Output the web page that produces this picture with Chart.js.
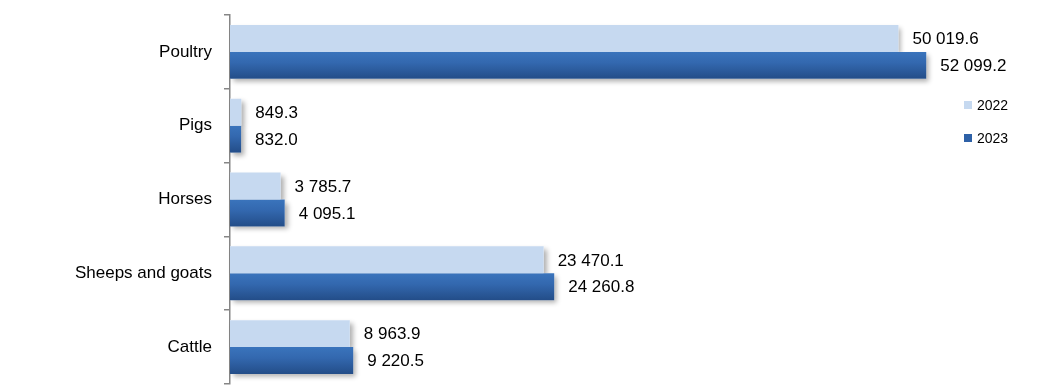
<!DOCTYPE html>
<html>
<head>
<meta charset="utf-8">
<script src="https://cdn.jsdelivr.net/npm/chart.js@4.4.1/dist/chart.umd.min.js"></script>
<style>
  html, body { margin: 0; padding: 0; background: #ffffff; }
  #wrap { width: 1039px; height: 386px; position: relative; }
</style>
</head>
<body>
<div id="wrap"><canvas id="c" width="1039" height="386"></canvas></div>
<script>
const categories = ['Poultry', 'Pigs', 'Horses', 'Sheeps and goats', 'Cattle'];
const values2022 = [50019.6, 849.3, 3785.7, 23470.1, 8963.9];
const values2023 = [52099.2, 832.0, 4095.1, 24260.8, 9220.5];
const seriesLabels = ['2022', '2023'];

const FONT = '"Liberation Sans", Arial, sans-serif';
const LIGHT = '#c6d9f0';
const DARK_TOP = '#3a74bc';
const DARK_MID = '#3368af';
const DARK_BOT = '#234d88';

function fmt(v) {
  const parts = v.toFixed(1).split('.');
  return parts[0].replace(/\B(?=(\d{3})+(?!\d))/g, ' ') + '.' + parts[1];
}

function darkGradient(ctx) {
  const chart = ctx.chart;
  const ys = chart.scales && chart.scales.y;
  if (!ys || ctx.dataIndex === undefined || !chart.chartArea) return DARK_MID;
  const center = ys.getPixelForValue(ctx.dataIndex);
  const band = (chart.chartArea.bottom - chart.chartArea.top) / categories.length;
  const half = band * 0.73 / 2;
  const g = chart.ctx.createLinearGradient(0, center, 0, center + half);
  g.addColorStop(0, DARK_TOP);
  g.addColorStop(0.4, DARK_MID);
  g.addColorStop(1, DARK_BOT);
  return g;
}

const effects = {
  id: 'effects',
  beforeDatasetsDraw(chart) {
    // soft drop shadows behind all bars, drawn before any bar
    const c = chart.ctx;
    c.save();
    c.shadowColor = 'rgba(0,0,0,0.32)';
    c.shadowBlur = 5;
    c.shadowOffsetX = 3;
    c.shadowOffsetY = 3;
    c.fillStyle = '#ffffff';
    chart.data.datasets.forEach((ds, di) => {
      const meta = chart.getDatasetMeta(di);
      meta.data.forEach(el => {
        const p = el.getProps(['x', 'y', 'base', 'height'], true);
        c.fillRect(p.base, p.y - p.height / 2, p.x - p.base, p.height);
      });
    });
    c.restore();
  },
  afterDatasetsDraw(chart) {
    const c = chart.ctx;
    c.save();
    c.font = '17px ' + FONT;
    c.fillStyle = '#000000';
    c.textBaseline = 'middle';
    c.textAlign = 'left';
    chart.data.datasets.forEach((ds, di) => {
      const meta = chart.getDatasetMeta(di);
      meta.data.forEach((el, i) => {
        c.fillText(fmt(ds.data[i]), el.x + 14, el.y + 1);
      });
    });
    // legend
    c.font = '14px ' + FONT;
    const items = [
      { label: seriesLabels[0], color: LIGHT, y: 105 },
      { label: seriesLabels[1], color: '#2e61a7', y: 138 }
    ];
    items.forEach(it => {
      c.fillStyle = it.color;
      c.fillRect(964, it.y - 4, 8, 8);
      c.fillStyle = '#000000';
      c.fillText(it.label, 977, it.y + 1);
    });
    c.restore();
  }
};

new Chart(document.getElementById('c'), {
  type: 'bar',
  data: {
    labels: categories,
    datasets: [
      { label: seriesLabels[0], data: values2022, backgroundColor: LIGHT,
        categoryPercentage: 0.73, barPercentage: 1.0, borderWidth: 0 },
      { label: seriesLabels[1], data: values2023, backgroundColor: darkGradient,
        categoryPercentage: 0.73, barPercentage: 1.0, borderWidth: 0 }
    ]
  },
  options: {
    indexAxis: 'y',
    responsive: false,
    animation: false,
    layout: { padding: { top: 15, bottom: 2, left: 0, right: 74 } },
    plugins: { legend: { display: false }, tooltip: { enabled: false } },
    scales: {
      x: { display: false, min: 0, max: 55000 },
      y: {
        afterFit(scale) { scale.width = 230; scale.paddingTop = 0; scale.paddingBottom = 0; },
        border: { display: true, color: '#868686', width: 1.5 },
        grid: { display: true, drawOnChartArea: false, drawTicks: true, tickLength: 6,
                color: '#868686', lineWidth: 1.5, offset: true },
        ticks: { color: '#000000', font: { family: FONT, size: 17 }, padding: 12 }
      }
    }
  },
  plugins: [effects]
});
</script>
</body>
</html>
